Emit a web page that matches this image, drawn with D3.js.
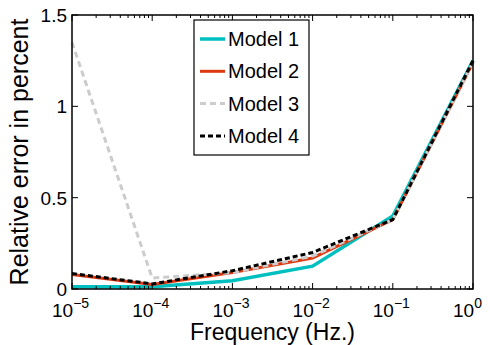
<!DOCTYPE html>
<html>
<head>
<meta charset="utf-8">
<script src="https://cdn.jsdelivr.net/npm/d3@7"></script>
<style>
  body { margin: 0; background: #fff; }
  svg { display: block; font-family: "Liberation Sans", Arial, sans-serif; }
</style>
</head>
<body>
<svg id="chart" width="490" height="345"></svg>
<script>
// data
const freqs = [1e-5, 1e-4, 1e-3, 1e-2, 1e-1, 1];
const model1 = [0.012, 0.012, 0.045, 0.125, 0.40, 1.25];
const model2 = [0.08, 0.025, 0.09, 0.17, 0.38, 1.24];
const model3 = [1.35, 0.06, 0.09, 0.18, 0.38, 1.24];
const model4 = [0.085, 0.028, 0.10, 0.20, 0.38, 1.25];
const seriesNames = ['Model 1', 'Model 2', 'Model 3', 'Model 4'];
const yTicks = [0, 0.5, 1, 1.5];
const xTicks = [-5, -4, -3, -2, -1, 0];

const margin = { top: 15, right: 17, bottom: 56, left: 72 };
const width = 490 - margin.left - margin.right;
const height = 345 - margin.top - margin.bottom;

const svg = d3.select('#chart');
const g = svg.append('g')
  .attr('transform', 'translate(' + margin.left + ',' + margin.top + ')');

const x = d3.scaleLog().domain([1e-5, 1]).range([0, width]);
const y = d3.scaleLinear().domain([0, 1.5]).range([height, 0]);

const styles = [
  { color: '#00bfbf', dash: null, w: 3.5 },
  { color: '#dd3a12', dash: null, w: 3 },
  { color: '#cccccc', dash: '6,4', w: 3 },
  { color: '#000000', dash: '5,3', w: 3 },
];
const allSeries = [model1, model2, model3, model4];

// lines
const line = d3.line()
  .x((d, i) => x(freqs[i]))
  .y(d => y(d));

allSeries.forEach((vals, k) => {
  g.append('path')
    .attr('fill', 'none')
    .attr('stroke', styles[k].color)
    .attr('stroke-width', styles[k].w)
    .attr('stroke-dasharray', styles[k].dash)
    .attr('d', line(vals));
});

// frame
g.append('rect')
  .attr('width', width).attr('height', height)
  .attr('fill', 'none').attr('stroke', '#000').attr('stroke-width', 1.5);

// minor + major ticks on log axis (inside, top and bottom)
const minor = [];
for (let e = -5; e < 0; e++) {
  for (let m = 2; m <= 9; m++) minor.push(m * Math.pow(10, e));
}
minor.forEach(v => {
  [[height, height - 3], [0, 3]].forEach(p => {
    g.append('line')
      .attr('x1', x(v)).attr('x2', x(v))
      .attr('y1', p[0]).attr('y2', p[1])
      .attr('stroke', '#000').attr('stroke-width', 1);
  });
});
xTicks.forEach(e => {
  const v = Math.pow(10, e);
  [[height, height - 6], [0, 6]].forEach(p => {
    g.append('line')
      .attr('x1', x(v)).attr('x2', x(v))
      .attr('y1', p[0]).attr('y2', p[1])
      .attr('stroke', '#000').attr('stroke-width', 1);
  });
  const t = g.append('text')
    .attr('x', x(v) - 20)
    .attr('y', height + 28)
    .attr('font-size', 19);
  t.append('tspan').text('10');
  t.append('tspan')
    .attr('font-size', 14)
    .attr('dy', -9)
    .text(e === 0 ? '0' : '\u2212' + (-e));
});

// y ticks (left and right, inside)
yTicks.forEach(v => {
  [[0, 6], [width, width - 6]].forEach(p => {
    g.append('line')
      .attr('x1', p[0]).attr('x2', p[1])
      .attr('y1', y(v)).attr('y2', y(v))
      .attr('stroke', '#000').attr('stroke-width', 1);
  });
  g.append('text')
    .attr('x', -5)
    .attr('y', y(v) + 7)
    .attr('text-anchor', 'end')
    .attr('font-size', 19)
    .text(v);
});

// axis labels
g.append('text')
  .attr('x', width / 2)
  .attr('y', height + 51)
  .attr('text-anchor', 'middle')
  .attr('font-size', 23)
  .text('Frequency (Hz.)');

g.append('text')
  .attr('transform', 'translate(' + (28 - margin.left) + ',' + (height / 2) + ') rotate(-90)')
  .attr('text-anchor', 'middle')
  .attr('font-size', 25)
  .text('Relative error in percent');

// legend
const lx = 194 - margin.left, ly = 20 - margin.top;
const legend = g.append('g').attr('transform', 'translate(' + lx + ',' + ly + ')');
legend.append('rect')
  .attr('width', 115).attr('height', 135)
  .attr('fill', '#fff').attr('stroke', '#000').attr('stroke-width', 1.2);
seriesNames.forEach((name, k) => {
  const cy = 19 + k * 32.3;
  legend.append('line')
    .attr('x1', 6).attr('x2', 31)
    .attr('y1', cy).attr('y2', cy)
    .attr('stroke', styles[k].color)
    .attr('stroke-width', styles[k].w)
    .attr('stroke-dasharray', styles[k].dash);
  legend.append('text')
    .attr('x', 34)
    .attr('y', cy + 7)
    .attr('font-size', 20)
    .text(name);
});
</script>
</body>
</html>
